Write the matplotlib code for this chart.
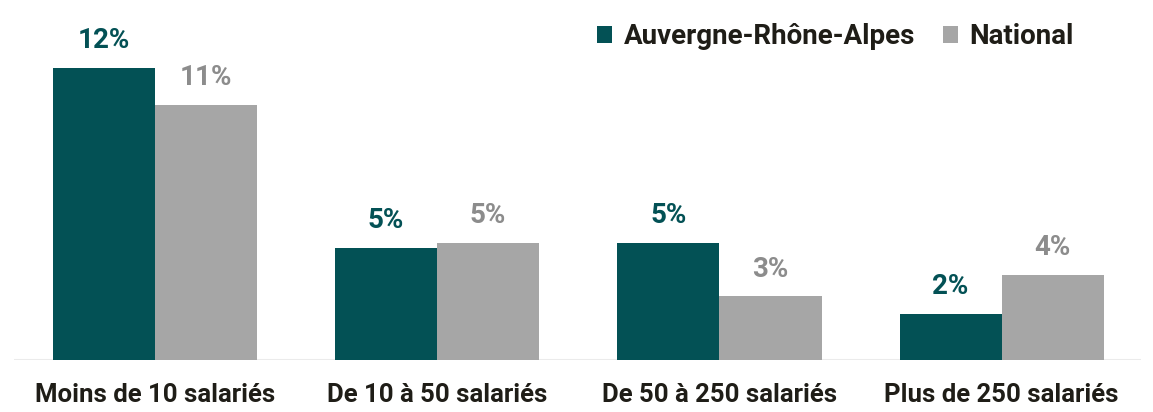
import matplotlib.pyplot as plt
import numpy as np

categories = ["Moins de 10 salariés", "De 10 à 50 salariés",
              "De 50 à 250 salariés", "Plus de 250 salariés"]
ara = [12.0, 4.6, 4.8, 1.9]
national = [10.5, 4.8, 2.6, 3.5]

c_ara = "#035155"
c_nat = "#a6a6a6"
c_nat_txt = "#8c8c8c"
c_txt = "#1f1d17"

plt.rcParams['font.family'] = ['Roboto', 'DejaVu Sans']

fig = plt.figure(figsize=(11.53, 4.12), dpi=100)
ax = fig.add_axes([0.012, 0.127, 0.978, 0.873])

x = np.arange(len(categories))
w = 0.362
b1 = ax.bar(x - w / 2, ara, w, color=c_ara, label="Auvergne-Rhône-Alpes")
b2 = ax.bar(x + w / 2, national, w, color=c_nat, label="National")

def pct(v):
    return f"{int(v + 0.5)}%"

for bars, vals, col in [(b1, ara, c_ara), (b2, national, c_nat_txt)]:
    for r, v in zip(bars, vals):
        ax.annotate(pct(v), (r.get_x() + r.get_width() / 2, v),
                    xytext=(0, 10), textcoords="offset points",
                    ha="center", va="bottom", fontsize=20,
                    fontweight="bold", color=col)

ax.set_xlim(-0.499, 3.495)
ax.set_ylim(0, 14.8)
ax.axhline(0, color="#ebebeb", linewidth=1.5, zorder=0)
for s in ax.spines.values():
    s.set_visible(False)
ax.set_yticks([])
ax.set_xticks(x)
ax.set_xticklabels(categories, fontsize=18.5, fontweight="bold", color=c_txt)
ax.tick_params(axis="x", length=0, pad=17)

leg = ax.legend(loc="upper left", bbox_to_anchor=(0.495, 1.005), ncol=2,
                frameon=False, fontsize=20, handlelength=0.55, handleheight=0.55,
                handletextpad=0.4, columnspacing=1.0)
for t in leg.get_texts():
    t.set_fontweight("bold")
    t.set_color(c_txt)

fig.savefig("out.png", dpi=100)
